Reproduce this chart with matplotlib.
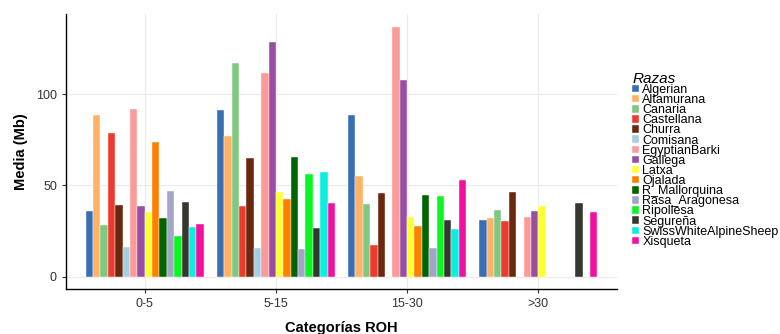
import numpy as np
import matplotlib
matplotlib.use("Agg")
import matplotlib.pyplot as plt

plt.rcParams["font.family"] = ["Liberation Sans", "DejaVu Sans"]

# ============================================================
# Datos: media de ROH (Mb) por raza y categoría
# ============================================================
categorias = ["0-5", "5-15", "15-30", ">30"]
razas = ["Algerian", "Altamurana", "Canaria", "Castellana", "Churra", "Comisana",
         "EgyptianBarki", "Gallega", "Latxa", "Ojalada", "R_Mallorquina",
         "Rasa_Aragonesa", "Ripollesa", "Segureña", "SwissWhiteAlpineSheep", "Xisqueta"]
colores = ["#3A6DB1", "#FFB265", "#7FC87F", "#EE3A2E", "#6A280F", "#A6CDE2",
           "#FB9A99", "#984EA3", "#FFFF33", "#FF7F00", "#006400",
           "#A3A5C8", "#0AF522", "#363830", "#0AEFDF", "#F50FA0"]

nan = np.nan
media_0_5 = [35.8, 88.3, 28.5, 78.5, 39.0, 16.4, 91.8, 38.5, 35.6, 73.7, 32.1, 46.7, 22.1, 40.7, 27.0, 28.7]
media_5_15 = [91.2, 77.2, 116.8, 38.9, 64.8, 15.7, 111.3, 128.3, 46.5, 42.7, 65.3, 15.0, 56.2, 26.7, 57.1, 40.5]
media_15_30 = [88.7, 55.1, 39.8, 17.3, 45.8, nan, 136.8, 107.7, 32.5, 27.7, 44.5, 15.5, 44.2, 31.2, 26.3, 52.8]
media_30 = [31.2, 32.0, 36.7, 30.7, 46.5, nan, 32.8, 35.8, 38.9, nan, nan, nan, nan, 40.5, nan, 35.2]

valores = np.array([media_0_5, media_5_15, media_15_30, media_30])

# ============================================================
# Gráfico de barras agrupadas
# ============================================================
fig = plt.figure(figsize=(7.8, 3.34), dpi=100)
ax = fig.add_axes([0.0846, 0.134, 0.7064, 0.823])

x = np.arange(1, len(categorias) + 1)
n = len(razas)
ancho = 0.9 / n
for i, (raza, color) in enumerate(zip(razas, colores)):
    pos = x - 0.45 + ancho * (i + 0.5)
    ax.bar(pos, valores[:, i], width=ancho, color=color, label=raza,
           edgecolor="white", linewidth=0.3, zorder=3)

ax.set_xlim(0.4, 4.6)
ax.set_ylim(-6.84, 143.6)
ax.set_xticks(x)
ax.set_xticklabels(categorias)
ax.set_yticks([0, 50, 100])

ax.grid(True, color="#EBEBEB", linewidth=0.9, zorder=0)
for lado in ["top", "right"]:
    ax.spines[lado].set_visible(False)
for lado in ["left", "bottom"]:
    ax.spines[lado].set_color("black")
    ax.spines[lado].set_linewidth(1.0)
ax.tick_params(axis="both", labelsize=9, colors="#333333", length=3, width=0.8,
               labelcolor="#333333")

ax.set_xlabel("Categorías ROH", fontsize=10.5, fontweight="bold", labelpad=8)
ax.set_ylabel("Media (Mb)", fontsize=10.5, fontweight="bold", labelpad=6)

leg = ax.legend(loc="upper left", bbox_to_anchor=(1.019, 0.809), frameon=False,
                fontsize=9, title="Razas", title_fontproperties={"size": 11, "style": "italic"},
                labelspacing=-0.15, handlelength=0.5, handleheight=0.55,
                handletextpad=0.3, borderaxespad=0, alignment="left")

plt.savefig("out.png", dpi=100)
plt.close()
